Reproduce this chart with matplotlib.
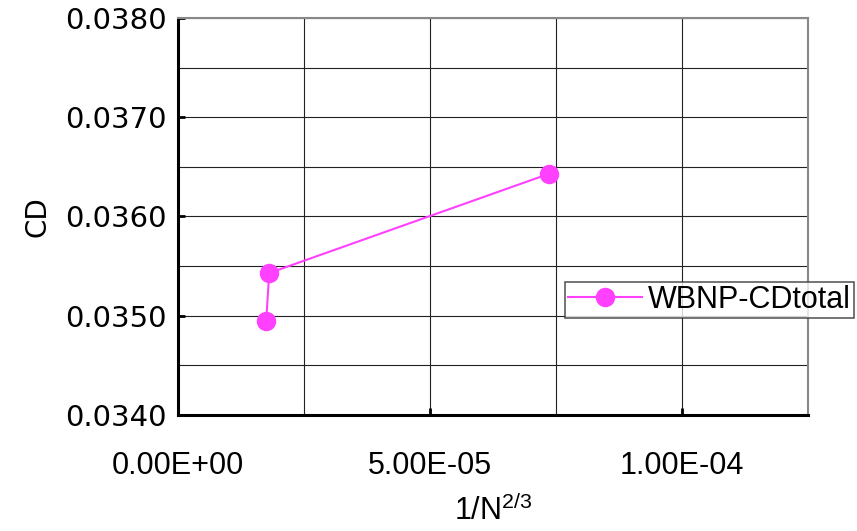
import matplotlib
matplotlib.use('Agg')
import matplotlib.pyplot as plt
import numpy as np

# values
x_vals = [1.75e-5, 1.81e-5, 7.36e-5]
cd_vals = [0.03495, 0.03543, 0.03643]
series_name = 'WBNP-CDtotal'
x_ticks = [0.0, 5.0e-5, 1.0e-4]
x_ticklabels = ['0.00E+00', '5.00E-05', '1.00E-04']
y_ticks = [0.034, 0.035, 0.036, 0.037, 0.038]
y_ticklabels = ['0.0340', '0.0350', '0.0360', '0.0370', '0.0380']

plt.rcParams['font.family'] = ['DejaVu Sans']
plt.rcParams['mathtext.fontset'] = 'custom'
plt.rcParams['mathtext.rm'] = 'Liberation Sans'
plt.rcParams['mathtext.it'] = 'Liberation Sans'

fig = plt.figure(figsize=(8.57, 5.31), dpi=100)
ax = fig.add_axes([0.2077, 0.2185, 0.7351, 0.7476])

ax.plot(x_vals, cd_vals, color='#ff40ff', lw=1.5, marker='o', ms=13,
        label=series_name, zorder=3)

ax.set_xlim(0, 1.25e-4)
ax.set_ylim(0.034, 0.038)
ax.set_xticks(x_ticks)
ax.set_xticklabels(x_ticklabels, fontfamily='Liberation Sans', fontsize=22)
ax.set_xticks(np.arange(0, 1.26e-4, 2.5e-5), minor=True)
ax.set_yticks(y_ticks)
ax.set_yticklabels(y_ticklabels, fontsize=21)
ax.set_yticks(np.arange(0.034, 0.03801, 0.0005), minor=True)
ax.grid(True, which='both', color='#222222', lw=0.8)
ax.tick_params(which='major', direction='in', length=5, width=2, pad=8)
ax.tick_params(which='minor', length=0)
ax.tick_params(axis='x', pad=26)

for s in ['left', 'bottom']:
    ax.spines[s].set_linewidth(2.2)
for s in ['top', 'right']:
    ax.spines[s].set_color('#888888')
    ax.spines[s].set_linewidth(1.5)

ax.set_ylabel('CD', fontsize=20, labelpad=10)
ax.set_xlabel('1/N$^{2/3}$', fontfamily='Liberation Sans', fontsize=22, labelpad=10)

leg = ax.legend(loc='center left', bbox_to_anchor=(0.615, 0.29),
                prop={'family': 'Liberation Sans', 'size': 22},
                frameon=True, fancybox=False, edgecolor='#333333',
                borderpad=0.1, handlelength=2.4, handletextpad=0.2,
                borderaxespad=0)
leg.get_frame().set_linewidth(1.2)

plt.savefig('out.png')
